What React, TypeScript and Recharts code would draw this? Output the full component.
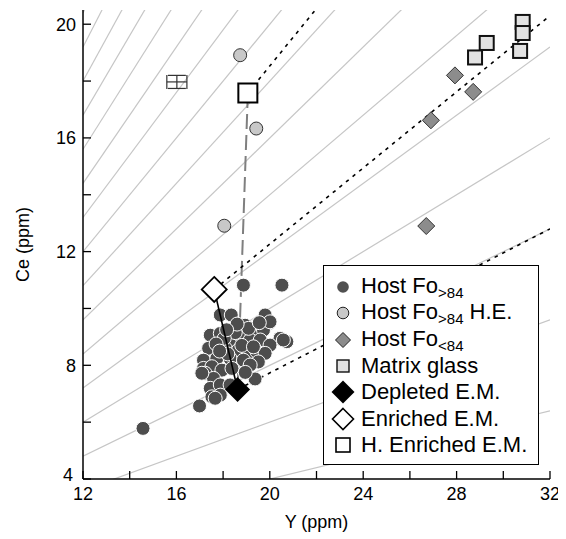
import { ScatterChart, Scatter, XAxis, YAxis, ReferenceLine, Legend, ErrorBar } from 'recharts'

// axis ticks (labels only on every second one)
const xTicks = [12, 14, 16, 18, 20, 22, 24, 26, 28, 30, 32]
const yTicks = [4, 6, 8, 10, 12, 14, 16, 18, 20]

// Ce/Y ratio reference lines through the origin
const ratios = [0.2, 0.3, 0.4, 0.5, 0.6, 0.7, 0.8, 0.9, 1.0, 1.1, 1.2, 1.3, 1.4, 1.5, 1.6, 1.7]

const hostFoHigh = [
  { x: 14.57, y: 5.78 }, { x: 16.99, y: 6.57 }, { x: 18.87, y: 10.82 }, { x: 20.52, y: 10.82 },
  { x: 17.88, y: 9.77 }, { x: 18.35, y: 9.77 }, { x: 19.8, y: 9.77 }, { x: 19.94, y: 9.47 },
  { x: 17.45, y: 9.06 }, { x: 17.88, y: 9.12 }, { x: 18.94, y: 9.41 }, { x: 19.23, y: 9.24 },
  { x: 19.73, y: 9.24 }, { x: 20.44, y: 8.95 }, { x: 20.73, y: 8.83 }, { x: 18.44, y: 8.83 },
  { x: 18.73, y: 9.06 }, { x: 19.16, y: 8.89 }, { x: 19.59, y: 8.89 }, { x: 20.01, y: 8.71 },
  { x: 17.38, y: 8.6 }, { x: 18.09, y: 8.6 }, { x: 18.66, y: 8.54 }, { x: 19.09, y: 8.42 },
  { x: 19.45, y: 8.48 }, { x: 19.8, y: 8.42 }, { x: 17.16, y: 8.18 }, { x: 17.73, y: 8.24 },
  { x: 18.3, y: 8.24 }, { x: 18.87, y: 8.18 }, { x: 19.51, y: 8.12 }, { x: 17.16, y: 7.89 },
  { x: 17.52, y: 7.95 }, { x: 17.95, y: 7.83 }, { x: 18.38, y: 7.89 }, { x: 19.16, y: 8.01 },
  { x: 17.23, y: 7.72 }, { x: 17.59, y: 7.54 }, { x: 19.37, y: 7.52 }, { x: 17.45, y: 7.19 },
  { x: 17.88, y: 7.31 }, { x: 17.52, y: 6.89 }, { x: 17.88, y: 6.95 }, { x: 18.3, y: 7.31 },
  { x: 20.58, y: 8.89 }, { x: 20.01, y: 9.53 }, { x: 19.09, y: 9.3 }, { x: 18.52, y: 9.15 },
  { x: 18.05, y: 8.95 }, { x: 17.7, y: 8.75 }, { x: 18.8, y: 8.7 }, { x: 19.3, y: 8.65 },
  { x: 18.2, y: 8.4 }, { x: 17.85, y: 8.5 }, { x: 17.66, y: 6.84 }, { x: 17.09, y: 7.72 },
  { x: 18.6, y: 9.45 }, { x: 19.55, y: 9.5 }, { x: 18.15, y: 9.25 }, { x: 18.95, y: 7.75 },
]
const hostFoHighHE = [{ x: 18.73, y: 18.91 }, { x: 19.42, y: 16.33 }, { x: 18.05, y: 12.91 }]
const hostFoLow = [{ x: 27.93, y: 18.2 }, { x: 28.71, y: 17.62 }, { x: 26.9, y: 16.62 }, { x: 26.7, y: 12.9 }]
const matrixGlass = [
  { x: 30.83, y: 20.08 }, { x: 30.83, y: 19.69 }, { x: 29.29, y: 19.34 },
  { x: 28.79, y: 18.83 }, { x: 30.72, y: 19.06 },
]
const depletedEM = [{ x: 18.62, y: 7.15 }]
const enrichedEM = [{ x: 17.62, y: 10.67 }]
const hEnrichedEM = [{ x: 19.06, y: 17.58 }]
const errorSample = [{ x: 16.02, y: 17.97, ex: 0.43, ey: 0.23 }]

// mixing / trend lines
const mixEnrichedDepleted = [enrichedEM[0], depletedEM[0]]
const mixHEnrichedDepleted = [hEnrichedEM[0], depletedEM[0]]
const trendEnriched = [enrichedEM[0], { x: 32, y: 20.3 }]
const trendHEnriched = [hEnrichedEM[0], { x: 21.95, y: 20.5 }]
const trendDepleted = [depletedEM[0], { x: 32, y: 12.8 }]

const FONT = '"Liberation Sans", Arial, Helvetica, sans-serif'
const TICK_M = 6
const TICK_LEN = 8

const diamond = (cx: number, cy: number, h: number) =>
  `${cx},${cy - h} ${cx + h},${cy} ${cx},${cy + h} ${cx - h},${cy}`

const noShape = () => <g />

const BottomTick = ({ x, y, payload }: any) => (
  <g>
    <line x1={x} x2={x} y1={y - TICK_M} y2={y - TICK_M - TICK_LEN} stroke="#000" strokeWidth={1.3} />
    {payload.value % 4 === 0 && (
      <text x={x} y={y + 1} dy="0.75em" textAnchor="middle" fontSize={18} fontFamily={FONT} fill="#000">
        {payload.value}
      </text>
    )}
  </g>
)

const TopTick = ({ x, y }: any) => (
  <line x1={x} x2={x} y1={y + TICK_M} y2={y + TICK_M + TICK_LEN} stroke="#000" strokeWidth={1.3} />
)

const LeftTick = ({ x, y, payload }: any) => (
  <g>
    <line x1={x + TICK_M} x2={x + TICK_M + TICK_LEN} y1={y} y2={y} stroke="#000" strokeWidth={1.3} />
    {payload.value % 4 === 0 && (
      <text x={payload.value === 4 ? x - 4 : x - 1} y={payload.value === 4 ? y - 4 : y} dy="0.36em"
        textAnchor="end" fontSize={18} fontFamily={FONT} fill="#000">
        {payload.value}
      </text>
    )}
  </g>
)

const RightTick = ({ x, y }: any) => (
  <line x1={x - TICK_M} x2={x - TICK_M - TICK_LEN} y1={y} y2={y} stroke="#000" strokeWidth={1.3} />
)

const XLabel = ({ viewBox }: any) => (
  <text x={viewBox.x + viewBox.width / 2} y={viewBox.y + viewBox.height - 3} textAnchor="middle"
    fontSize={18} fontFamily={FONT} fill="#000">
    Y (ppm)
  </text>
)

const YLabel = ({ viewBox }: any) => {
  const cx = 21
  const cy = viewBox.y + viewBox.height / 2
  return (
    <text x={cx} y={cy} transform={`rotate(-90, ${cx}, ${cy})`} textAnchor="middle"
      fontSize={18} fontFamily={FONT} fill="#000">
      Ce (ppm)
    </text>
  )
}

const legendRows = [
  { icon: 'hostHigh', text: 'Host Fo', sub: '>84', tail: '' },
  { icon: 'hostHE', text: 'Host Fo', sub: '>84', tail: ' H.E.' },
  { icon: 'hostLow', text: 'Host Fo', sub: '<84', tail: '' },
  { icon: 'glass', text: 'Matrix glass', sub: '', tail: '' },
  { icon: 'depleted', text: 'Depleted E.M.', sub: '', tail: '' },
  { icon: 'enriched', text: 'Enriched E.M.', sub: '', tail: '' },
  { icon: 'hEnriched', text: 'H. Enriched E.M.', sub: '', tail: '' },
]

const LegendIcon = ({ kind }: { kind: string }) => {
  const c = 14
  let shape = null
  if (kind === 'hostHigh') shape = <circle cx={c} cy={c} r={5.8} fill="#505050" />
  if (kind === 'hostHE') shape = <circle cx={c} cy={c} r={5.8} fill="#c8c8c8" stroke="#222" strokeWidth={1} />
  if (kind === 'hostLow') shape = <polygon points={diamond(c, c, 7.5)} fill="#8c8c8c" stroke="#222" strokeWidth={1} />
  if (kind === 'glass') shape = <rect x={c - 6} y={c - 6} width={12} height={12} fill="#e2e2e2" stroke="#111" strokeWidth={1.4} />
  if (kind === 'depleted') shape = <polygon points={diamond(c, c, 11.5)} fill="#000" />
  if (kind === 'enriched') shape = <polygon points={diamond(c, c, 10.5)} fill="#fff" stroke="#000" strokeWidth={1.6} />
  if (kind === 'hEnriched') shape = <rect x={c - 7} y={c - 7} width={14} height={14} fill="#fff" stroke="#000" strokeWidth={1.6} />
  return (
    <svg width={28} height={28} style={{ display: 'block', flex: 'none' }}>
      {shape}
    </svg>
  )
}

const LegendBox = () => (
  <div style={{
    border: '1.5px solid #000', background: '#fff', padding: '8px 4px 6px 5px',
    fontFamily: FONT, fontSize: 22, color: '#000', boxSizing: 'border-box', lineHeight: '26px',
  }}>
    {legendRows.map((r) => (
      <div key={r.icon} style={{ display: 'flex', alignItems: 'center', height: 26.3, whiteSpace: 'nowrap' }}>
        <LegendIcon kind={r.icon} />
        <span style={{ marginLeft: 4 }}>
          {r.text}
          {r.sub && <span style={{ fontSize: 15, position: 'relative', top: 5 }}>{r.sub}</span>}
          {r.tail}
        </span>
      </div>
    ))}
  </div>
)

export default function App() {
  return (
    <ScatterChart width={552} height={531} margin={{ top: 2, right: 10, bottom: 8, left: 0 }}>
      <XAxis type="number" dataKey="x" domain={[12, 32]} ticks={xTicks} interval={0} allowDataOverflow
        height={52} tickSize={0} tickMargin={TICK_M} tickLine={false} tick={BottomTick}
        axisLine={{ stroke: '#000', strokeWidth: 1.5 }} label={XLabel} />
      <XAxis type="number" dataKey="x" xAxisId="top" orientation="top" domain={[12, 32]} ticks={xTicks}
        interval={0} allowDataOverflow height={0} tickSize={0} tickMargin={TICK_M} tickLine={false}
        tick={TopTick} axisLine={{ stroke: '#000', strokeWidth: 1.5 }} />
      <YAxis type="number" dataKey="y" domain={[4, 20.5]} ticks={yTicks} interval={0} allowDataOverflow
        width={75} tickSize={0} tickMargin={TICK_M} tickLine={false} tick={LeftTick}
        axisLine={{ stroke: '#000', strokeWidth: 1.5 }} label={YLabel} />
      <YAxis type="number" dataKey="y" yAxisId="right" orientation="right" domain={[4, 20.5]} ticks={yTicks}
        interval={0} allowDataOverflow width={0} tickSize={0} tickMargin={TICK_M} tickLine={false}
        tick={RightTick} axisLine={{ stroke: '#000', strokeWidth: 1.5 }} />

      {ratios.map((r) => (
        <ReferenceLine key={r} segment={[{ x: 12, y: 12 * r }, { x: 32, y: 32 * r }]} ifOverflow="hidden"
          stroke="#c6c6c6" strokeWidth={1.2} />
      ))}

      <Scatter data={mixHEnrichedDepleted} shape={noShape} isAnimationActive={false}
        line={{ stroke: '#7f7f7f', strokeWidth: 2, strokeDasharray: '15 6' }} />
      <Scatter data={trendHEnriched} shape={noShape} isAnimationActive={false}
        line={{ stroke: '#000', strokeWidth: 1.6, strokeDasharray: '3.5 5' }} />
      <Scatter data={trendEnriched} shape={noShape} isAnimationActive={false}
        line={{ stroke: '#000', strokeWidth: 1.6, strokeDasharray: '3.5 5' }} />
      <Scatter data={trendDepleted} shape={noShape} isAnimationActive={false}
        line={{ stroke: '#000', strokeWidth: 1.6, strokeDasharray: '3.5 5' }} />

      <Scatter data={errorSample} shape={noShape} isAnimationActive={false}>
        <ErrorBar dataKey="ex" direction="x" width={7} stroke="#333" strokeWidth={1.2} />
        <ErrorBar dataKey="ey" direction="y" width={9} stroke="#333" strokeWidth={1.2} />
      </Scatter>

      <Scatter data={hostFoHigh} isAnimationActive={false}
        shape={(p: any) => <circle cx={p.cx} cy={p.cy} r={7} fill="#4d4d4d" stroke="#fff" strokeWidth={1} />} />
      <Scatter data={hostFoHighHE} isAnimationActive={false}
        shape={(p: any) => <circle cx={p.cx} cy={p.cy} r={6.5} fill="#c8c8c8" stroke="#333" strokeWidth={1} />} />
      <Scatter data={hostFoLow} isAnimationActive={false}
        shape={(p: any) => <polygon points={diamond(p.cx, p.cy, 8.5)} fill="#8c8c8c" stroke="#333" strokeWidth={1} />} />
      <Scatter data={matrixGlass} isAnimationActive={false}
        shape={(p: any) => <rect x={p.cx - 7} y={p.cy - 7} width={14} height={14} fill="#e2e2e2" stroke="#111" strokeWidth={2} />} />

      <Scatter data={mixEnrichedDepleted} shape={noShape} isAnimationActive={false}
        line={{ stroke: '#000', strokeWidth: 1.6 }} />

      <Scatter data={depletedEM} isAnimationActive={false}
        shape={(p: any) => <polygon points={diamond(p.cx, p.cy, 12.5)} fill="#000" />} />
      <Scatter data={enrichedEM} isAnimationActive={false}
        shape={(p: any) => <polygon points={diamond(p.cx, p.cy, 12.5)} fill="#fff" stroke="#000" strokeWidth={1.8} />} />
      <Scatter data={hEnrichedEM} isAnimationActive={false}
        shape={(p: any) => <rect x={p.cx - 9.5} y={p.cy - 9.5} width={19} height={19} fill="#fff" stroke="#000" strokeWidth={2} />} />

      <Legend layout="horizontal" verticalAlign="middle" align="center" content={LegendBox}
        wrapperStyle={{ left: 315, top: 257, width: 216 }} />
    </ScatterChart>
  )
}
